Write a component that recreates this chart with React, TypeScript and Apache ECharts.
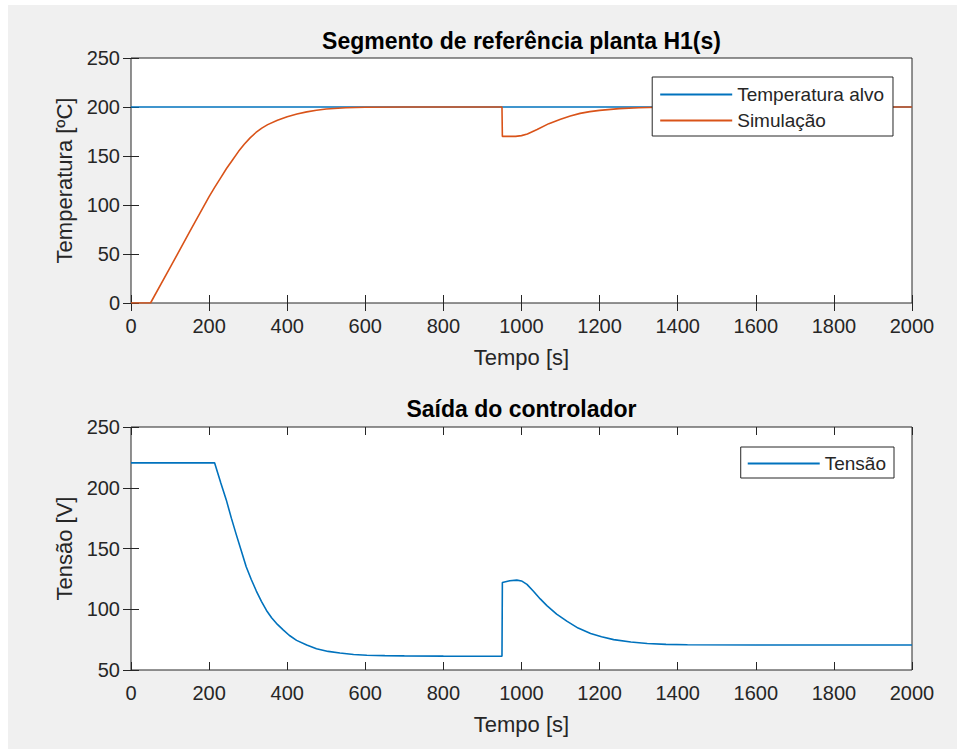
import React, { useEffect, useRef } from "react";
import * as echarts from "echarts";

// ---- data ----
const xTicks = [0, 200, 400, 600, 800, 1000, 1200, 1400, 1600, 1800, 2000];

const alvoTime = [0, 2000];
const alvoTemp = [200, 200];

const simTime = [0, 50, 100, 150, 200, 215, 230, 245, 260, 275, 290, 305, 320, 335, 350, 375, 400, 425, 450, 475, 500, 550, 600, 700, 950, 951, 985, 1000, 1015, 1040, 1070, 1100, 1125, 1150, 1175, 1200, 1250, 1300, 1350, 1400, 2000];
const simTemp = [0, 0, 36, 72.5, 108.5, 118.5, 128, 137.5, 146, 154.5, 162, 168.5, 174, 178.5, 182, 186.5, 190, 192.8, 195, 196.7, 198, 199.3, 199.8, 200, 200, 170, 170, 170.8, 172.5, 177, 183, 187.5, 190.8, 193.5, 195.3, 196.6, 198.3, 199.3, 199.8, 200, 200];

const tensaoTime = [0, 214, 230, 244, 257, 270, 283, 295, 308, 321, 334, 347, 360, 375, 389, 405, 424, 450, 475, 505, 535, 570, 604, 650, 700, 800, 950, 951, 970, 988, 1000, 1014, 1030, 1048, 1065, 1090, 1117, 1145, 1177, 1205, 1236, 1280, 1322, 1370, 1425, 1600, 2000];
const tensaoValues = [220.5, 220.5, 204, 190, 175, 161, 147.5, 135, 124.5, 115, 106.5, 99, 93, 87.5, 83.3, 78.6, 74.4, 70.5, 67.5, 65.3, 64, 62.8, 62.2, 61.8, 61.6, 61.4, 61.3, 122, 123.5, 124, 123.3, 120.5, 115, 108.5, 103, 96, 90, 84.5, 80, 77.3, 75, 73, 71.8, 71.1, 70.8, 70.6, 70.6];

const titles = ["Segmento de referência planta H1(s)", "Saída do controlador"];

const FONT = "'Liberation Sans', Arial, Helvetica, sans-serif";
const AX = "#262626";
const BLUE = "#0072BD";
const ORANGE = "#D95319";

const zip = (a: number[], b: number[]) => a.map((t, i) => [t, b[i]]);

export default function App() {
  const ref = useRef<HTMLDivElement>(null);
  useEffect(() => {
    if (!ref.current) return;
    const chart = echarts.init(ref.current, undefined, { renderer: "svg" });

    const grids = [
      { left: 131, top: 58, width: 781, height: 245 },
      { left: 131, top: 427, width: 781, height: 243 },
    ];

    const plain = (v: number) => String(v);

    const mainX = (gi: number) => ({
      type: "value",
      gridIndex: gi,
      min: xTicks[0],
      max: xTicks[xTicks.length - 1],
      interval: xTicks[1] - xTicks[0],
      name: "Tempo [s]",
      nameLocation: "middle",
      nameGap: 43,
      nameTextStyle: { fontFamily: FONT, fontSize: 22, color: AX },
      axisLine: { show: false },
      axisTick: { inside: true, length: 8, lineStyle: { color: AX } },
      axisLabel: { margin: 13, fontFamily: FONT, fontSize: 20, color: AX, formatter: plain },
      splitLine: { show: false },
    });
    const topX = (gi: number) => ({
      type: "value",
      gridIndex: gi,
      position: "top",
      min: xTicks[0],
      max: xTicks[xTicks.length - 1],
      interval: xTicks[1] - xTicks[0],
      axisLine: { show: false },
      axisTick: { inside: true, length: 8, lineStyle: { color: AX } },
      axisLabel: { show: false },
      splitLine: { show: false },
    });
    const mainY = (gi: number, min: number, name: string) => ({
      type: "value",
      gridIndex: gi,
      min,
      max: 250,
      interval: 50,
      name,
      nameLocation: "middle",
      nameGap: 50,
      nameTextStyle: { fontFamily: FONT, fontSize: 22, color: AX },
      axisLine: { show: false },
      axisTick: { inside: true, length: 8, lineStyle: { color: AX } },
      axisLabel: { margin: 11, fontFamily: FONT, fontSize: 20, color: AX, formatter: plain },
      splitLine: { show: false },
    });
    const rightY = (gi: number, min: number) => ({
      type: "value",
      gridIndex: gi,
      position: "right",
      min,
      max: 250,
      interval: 50,
      axisLine: { show: false },
      axisTick: { inside: true, length: 8, lineStyle: { color: AX } },
      axisLabel: { show: false },
      splitLine: { show: false },
    });

    const option: any = {
      animation: false,
      backgroundColor: "#ffffff",
      graphic: [
        {
          type: "rect",
          z: -100,
          silent: true,
          shape: { x: 8, y: 5, width: 949, height: 744 },
          style: { fill: "#f0f0f0" },
        },
      ],
      title: [
        {
          text: titles[0],
          left: 521.5,
          top: 41,
          padding: 0,
          textAlign: "center",
          textVerticalAlign: "middle",
          textStyle: { fontFamily: FONT, fontSize: 23, fontWeight: "bold", color: "#000" },
        },
        {
          text: titles[1],
          left: 521.5,
          top: 409,
          padding: 0,
          textAlign: "center",
          textVerticalAlign: "middle",
          textStyle: { fontFamily: FONT, fontSize: 23, fontWeight: "bold", color: "#000" },
        },
      ],
      legend: [
        {
          data: ["Temperatura alvo", "Simulação"],
          orient: "vertical",
          right: 64,
          top: 77,
          padding: [8, 9, 6, 8],
          itemGap: 7,
          itemWidth: 72,
          itemHeight: 2,
          icon: "rect",
          selectedMode: false,
          backgroundColor: "#ffffff",
          borderColor: AX,
          borderWidth: 1,
          borderRadius: 0,
          textStyle: { fontFamily: FONT, fontSize: 19, color: AX },
        },
        {
          data: ["Tensão"],
          orient: "vertical",
          right: 63,
          top: 447,
          padding: [7, 8, 5, 7],
          itemWidth: 72,
          itemHeight: 2,
          icon: "rect",
          selectedMode: false,
          backgroundColor: "#ffffff",
          borderColor: AX,
          borderWidth: 1,
          borderRadius: 0,
          textStyle: { fontFamily: FONT, fontSize: 19, color: AX },
        },
      ],
      grid: grids.map((g) => ({
        ...g,
        show: true,
        backgroundColor: "#ffffff",
        borderColor: AX,
        borderWidth: 1,
        containLabel: false,
      })),
      xAxis: [mainX(0), mainX(1), topX(0), topX(1)],
      yAxis: [
        mainY(0, 0, "Temperatura [ºC]"),
        mainY(1, 50, "Tensão [V]"),
        rightY(0, 0),
        rightY(1, 50),
      ],
      series: [
        {
          name: "Temperatura alvo",
          type: "line",
          xAxisIndex: 0,
          yAxisIndex: 0,
          data: zip(alvoTime, alvoTemp),
          symbol: "none",
          showSymbol: false,
          lineStyle: { color: BLUE, width: 1.6 },
          itemStyle: { color: BLUE },
        },
        {
          name: "Simulação",
          type: "line",
          xAxisIndex: 0,
          yAxisIndex: 0,
          data: zip(simTime, simTemp),
          symbol: "none",
          showSymbol: false,
          lineStyle: { color: ORANGE, width: 1.6 },
          itemStyle: { color: ORANGE },
        },
        {
          name: "Tensão",
          type: "line",
          xAxisIndex: 1,
          yAxisIndex: 1,
          data: zip(tensaoTime, tensaoValues),
          symbol: "none",
          showSymbol: false,
          lineStyle: { color: BLUE, width: 1.6 },
          itemStyle: { color: BLUE },
        },
      ],
    };
    chart.setOption(option);
    return () => chart.dispose();
  }, []);

  return (
    <div
      ref={ref}
      style={{ position: "fixed", left: 0, top: 0, width: 957, height: 749 }}
    />
  );
}
